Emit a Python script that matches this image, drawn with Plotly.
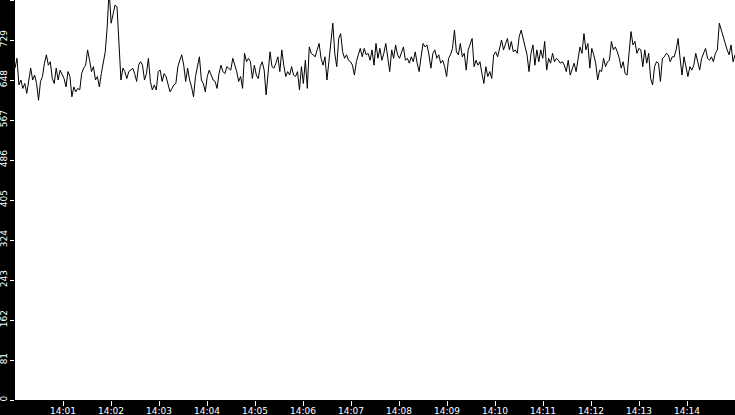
import pandas as pd
import plotly.graph_objects as go

# readings, 14:00 to 14:15 in six chunks of 2.5 minutes
chunk1 = [672, 692, 638, 648, 631, 641, 621, 651, 672, 648, 658, 641, 607, 645, 655,
          682, 699, 678, 685, 651, 641, 672, 648, 668, 661, 651, 634, 665, 655, 614,
          634, 624, 631, 628, 661, 672, 678, 709, 688, 665, 675, 648, 655, 634, 661,
          685, 705, 756, 830, 763, 783, 800, 796, 709, 648, 672, 665, 651, 665, 668]
chunk2 = [672, 661, 645, 678, 685, 678, 648, 661, 692, 645, 628, 638, 628, 665, 668,
          645, 661, 655, 641, 624, 631, 638, 641, 675, 688, 699, 678, 645, 672, 648,
          634, 614, 655, 675, 695, 648, 641, 624, 655, 668, 658, 648, 645, 631, 661,
          678, 665, 661, 675, 672, 668, 692, 678, 665, 645, 655, 631, 702, 685, 692]
chunk3 = [685, 651, 678, 658, 651, 675, 685, 668, 618, 661, 705, 675, 672, 682, 695,
          665, 709, 678, 655, 665, 658, 675, 658, 655, 665, 628, 675, 641, 688, 631,
          715, 702, 699, 695, 709, 722, 692, 678, 695, 648, 685, 722, 763, 702, 675,
          732, 742, 705, 692, 699, 688, 685, 678, 658, 685, 699, 712, 695, 712, 699]
chunk4 = [702, 688, 709, 678, 722, 692, 712, 688, 702, 722, 688, 665, 709, 692, 719,
          699, 692, 702, 715, 688, 692, 682, 695, 685, 705, 682, 665, 695, 722, 715,
          719, 699, 672, 702, 709, 692, 699, 682, 688, 675, 655, 692, 699, 712, 749,
          705, 699, 722, 695, 702, 668, 709, 719, 732, 675, 688, 678, 685, 661, 641]
chunk5 = [675, 655, 665, 651, 699, 705, 695, 715, 729, 709, 722, 732, 709, 726, 705,
          709, 702, 736, 749, 729, 715, 699, 665, 702, 719, 678, 709, 685, 709, 692,
          726, 668, 692, 682, 702, 685, 692, 688, 682, 685, 678, 665, 688, 658, 668,
          682, 665, 688, 715, 702, 742, 709, 722, 672, 712, 699, 682, 648, 668, 665]
chunk6 = [692, 675, 685, 688, 726, 709, 715, 705, 692, 672, 685, 661, 658, 702, 746,
          719, 726, 702, 712, 709, 675, 709, 682, 702, 651, 638, 675, 685, 682, 645,
          692, 695, 702, 699, 685, 695, 695, 709, 732, 692, 658, 695, 675, 655, 675,
          668, 678, 702, 685, 668, 692, 702, 712, 692, 688, 695, 685, 702, 709, 763,
          749, 739, 722, 709, 699, 719, 685, 699]

values = chunk1 + chunk2 + chunk3 + chunk4 + chunk5 + chunk6
times = pd.date_range("2024-01-01 14:00:00", "2024-01-01 14:15:00", periods=len(values))

y_ticks = list(range(0, 811, 81))
x_ticks = ["2024-01-01 14:%02d:00" % m for m in range(1, 15)]

fig = go.Figure()
fig.add_trace(go.Scatter(x=times, y=values, mode="lines",
                         line=dict(color="black", width=1), showlegend=False))

fig.update_layout(
    width=735, height=415,
    margin=dict(l=15, r=0, t=0, b=15),
    paper_bgcolor="black",
    plot_bgcolor="white",
    font=dict(family="DejaVu Sans", size=9, color="white"),
)
fig.update_xaxes(
    range=["2024-01-01 14:00:00", "2024-01-01 14:15:00"],
    tickvals=x_ticks, tickformat="%H:%M", ticklabelstandoff=-3,
    showgrid=False, zeroline=False, automargin=False,
    ticks="outside", tickcolor="white", ticklen=5, tickwidth=1,
)
fig.update_yaxes(
    range=[0, 810], tickvals=y_ticks, tickangle=-90, ticklabelstandoff=-1,
    showgrid=False, zeroline=False, automargin=False,
    ticks="outside", tickcolor="white", ticklen=4, tickwidth=1,
)

# drop the browser's default page margin so the chart sits at the corner
fig.write_html("out.html", config={"displayModeBar": False},
               post_script="document.body.style.margin='0';")
